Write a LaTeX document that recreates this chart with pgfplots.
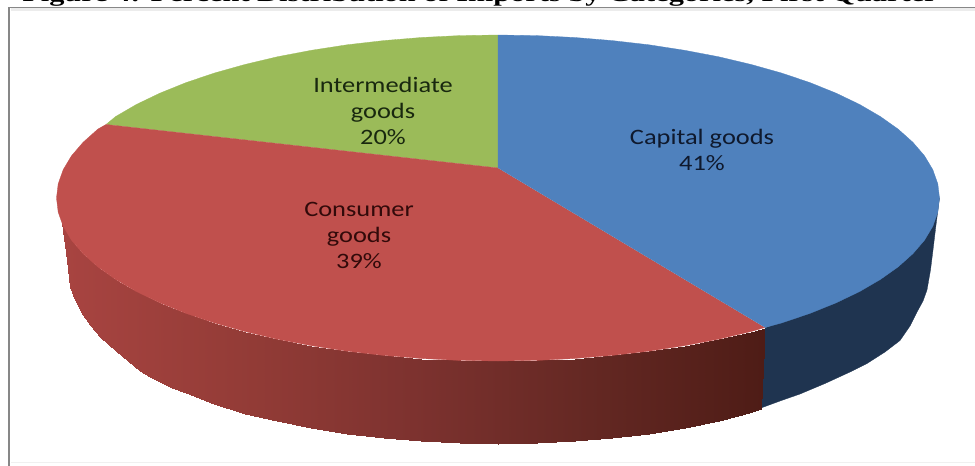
\documentclass[border=0pt]{standalone}
\usepackage{fontspec}
\setmainfont{Carlito}
\newfontfamily\titlefont{Liberation Serif}
\usepackage{pgfplots}
\pgfplotsset{compat=1.18}
\definecolor{pblue}{RGB}{79,129,189}
\definecolor{pred}{RGB}{192,80,77}
\definecolor{pgreen}{RGB}{155,187,89}
\definecolor{pnavy}{RGB}{31,52,80}
\begin{document}
\begin{tikzpicture}
\path[use as bounding box] (0,0) rectangle (975pt,466pt);
\begin{axis}[
  at={(0,0)}, anchor=south west,
  width=975pt, height=466pt, scale only axis,
  xmin=0, xmax=975, ymin=0, ymax=466, y dir=reverse,
  hide axis, clip=false,
  colormap={redside}{rgb255(0cm)=(168,68,65) rgb255(1cm)=(148,60,55) rgb255(2cm)=(125,50,47) rgb255(3cm)=(100,40,35) rgb255(4cm)=(78,28,22)},
  point meta min=62, point meta max=765,
]
% frame
\addplot[draw={rgb,255:red,236;green,236;blue,236}, line width=2.5pt] coordinates {(11,9.5)(975,9.5)};
\addplot[draw={rgb,255:red,240;green,240;blue,240}, line width=1pt] coordinates {(11,462)(975,462)};
\addplot[draw={rgb,255:red,135;green,135;blue,135}, line width=1.6pt] coordinates {(9,466)(9,7.5)(975,7.5)};
% blue side
\addplot[fill=pnavy, draw=pnavy, line width=.3pt] coordinates {
(765,328)(810,310)(860,288)(900,263)(925,238)(939.5,198)
(936,225)(933,250)(930.5,270)(927,290)(923,301)(917,312)(910,326)(900,340.5)(885,352)(867,363.5)(850,372)(825,383.5)(800,394)(780,401)(761,408)};
% red side
\addplot[patch, patch type=rectangle, shader=interp, point meta=explicit] table[x=x,y=y,meta=c] {
x y c
62 223 62
64 228 64
64 238 64
62 223 62
64 228 64
67 233 67
67 260 67
64 238 64
67 233 67
70 238 70
70 287 70
67 260 67
70 238 70
75 244.6 75
75 300 75
70 287 70
75 244.6 75
83 253.7 83
83 315 83
75 300 75
83 253.7 83
90 260 90
90 325 90
83 315 83
90 260 90
100 268.5 100
100 337 100
90 325 90
100 268.5 100
108 274.4 108
108 344 108
100 337 100
108 274.4 108
116 279.5 116
116 351 116
108 344 108
116 279.5 116
128 287 128
128 361 128
116 351 116
128 287 128
140 293 140
140 371 140
128 361 128
140 293 140
150 298.4 150
150 377 150
140 371 140
150 298.4 150
160 302.8 160
160 382 160
150 377 150
160 302.8 160
172 307.9 172
172 388 172
160 382 160
172 307.9 172
186 313.3 186
186 393 186
172 388 172
186 313.3 186
214 322.9 214
214 403.5 214
186 393 186
214 322.9 214
245 331.5 245
245 413.5 245
214 403.5 214
245 331.5 245
277 339.2 277
277 421.4 277
245 413.5 245
277 339.2 277
311 345.7 311
311 428.2 311
277 421.4 277
311 345.7 311
347 351.2 347
347 433.9 347
311 428.2 311
347 351.2 347
384 355.4 384
384 438.3 384
347 433.9 347
384 355.4 384
421 358.5 421
421 441.4 421
384 438.3 384
421 358.5 421
460 360.4 460
460 443.4 460
421 441.4 421
460 360.4 460
498 361 498
498 444 498
460 443.4 460
498 361 498
537 360.4 537
537 443.4 537
498 444 498
537 360.4 537
575 358.5 575
575 441.4 575
537 443.4 537
575 358.5 575
612 355.4 612
612 438.3 612
575 441.4 575
612 355.4 612
649 351.2 649
649 433.9 649
612 438.3 612
649 351.2 649
685 345.7 685
685 428.2 685
649 433.9 649
685 345.7 685
719 339.2 719
719 421.4 719
685 428.2 685
719 339.2 719
751 331.5 751
749 413 749
719 421.4 719
751 331.5 751
765 328 765
761 408.5 761
749 413 749
};
% top faces
\addplot[fill=pgreen, draw=pgreen, line width=.3pt] coordinates {
(498,168)(498,35)(459.5,35.6)(421.3,37.5)(383.7,40.6)(347,44.8)(311.4,50.3)(277.2,56.8)(244.8,64.5)(214.2,73.1)(185.8,82.7)(159.8,93.2)(136.3,104.5)(115.7,116.5)(106,124.5)};
\addplot[fill=pred, draw=pred, line width=.3pt] coordinates {
(498,168)(106,124.5)(97.9,129.1)(83.1,142.3)(71.5,155.8)(63.2,169.7)(58.2,183.8)(56.5,198)(58.2,212.2)(63.2,226.3)(71.5,240.2)(83.1,253.7)(97.9,266.9)(115.7,279.5)(136.3,291.5)(159.8,302.8)(185.8,313.3)(214.2,322.9)(244.8,331.5)(277.2,339.2)(311.4,345.7)(347,351.2)(383.7,355.4)(421.3,358.5)(459.5,360.4)(498,361)(536.5,360.4)(574.7,358.5)(612.3,355.4)(649,351.2)(684.6,345.7)(718.8,339.2)(751.2,331.5)(765,327.5)};
\addplot[fill=pblue, draw=pblue, line width=.3pt] coordinates {
(498,168)(498,35)(536.5,35.6)(574.7,37.5)(612.3,40.6)(649,44.8)(684.6,50.3)(718.8,56.8)(751.2,64.5)(781.8,73.1)(810.2,82.7)(836.2,93.2)(859.7,104.5)(880.3,116.5)(898.1,129.1)(912.9,142.3)(924.5,155.8)(932.8,169.7)(937.8,183.8)(939.5,198)(937.8,212.2)(932.8,226.3)(924.5,240.2)(912.9,253.7)(898.1,266.9)(880.3,279.5)(859.7,291.5)(836.2,302.8)(810.2,313.3)(781.8,322.9)(765,327.5)};
% labels
\node[font=\fontsize{22}{26}\selectfont, xscale=1.2, align=center, text={rgb,255:red,25;green,40;blue,15}] at (axis cs:383,111) {Intermediate\\goods\\20\%};
\node[font=\fontsize{22}{26}\selectfont, xscale=1.2, align=center, text={rgb,255:red,50;green,10;blue,10}] at (axis cs:359,235) {Consumer\\goods\\39\%};
\node[font=\fontsize{22}{26}\selectfont, xscale=1.2, align=center, text={rgb,255:red,15;green,25;blue,45}] at (axis cs:702,150) {Capital goods\\41\%};
% title (cut by the page's top edge, as in the reference)
\node[anchor=base west, inner sep=0pt, xscale=1.38, font=\titlefont\bfseries\fontsize{22}{26}\selectfont] at (axis cs:22,1) {Figure 4: Percent Distribution of Imports by Categories, First Quarter};
\end{axis}
\end{tikzpicture}
\end{document}
